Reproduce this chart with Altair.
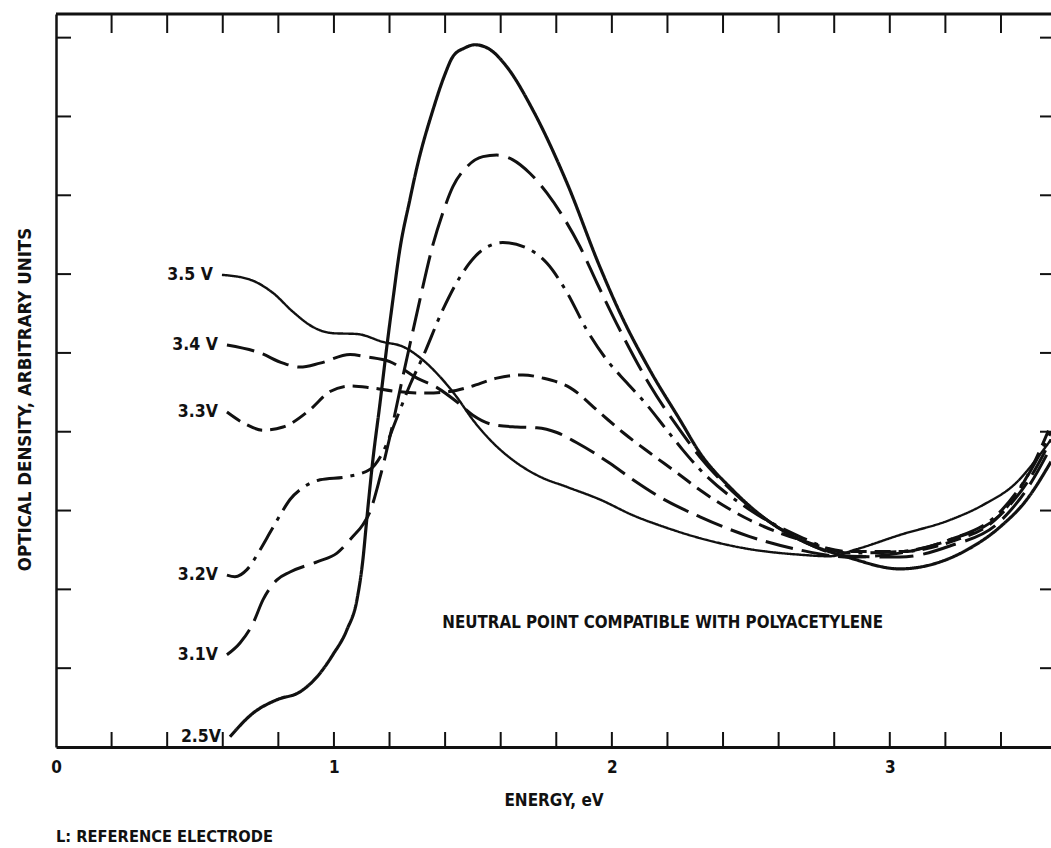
import altair as alt
import pandas as pd

FONT = "DejaVu Sans Condensed, Liberation Sans Narrow, sans-serif"
INK = "#111111"

# plot area in pixels
W, H = 995, 733

# ---- spectra (energy in eV, optical density in arbitrary units) ----
series_names = ["3.5 V", "3.4 V", "3.3V", "3.2V", "3.1V", "2.5V"]

energy_35 = [0.597, 0.698, 0.781, 0.853, 0.924, 0.996, 1.083, 1.176, 1.248, 1.320, 1.381,
             1.442, 1.500, 1.572, 1.644, 1.741, 1.838, 1.957, 2.076, 2.198, 2.317, 2.496,
             2.676, 2.784, 2.881, 3.036, 3.216, 3.335, 3.457, 3.540, 3.58]
od_35 = [5.99, 5.93, 5.76, 5.52, 5.33, 5.25, 5.24, 5.14, 5.08, 4.91, 4.70,
         4.44, 4.15, 3.86, 3.64, 3.43, 3.30, 3.14, 2.94, 2.78, 2.65, 2.51,
         2.44, 2.42, 2.51, 2.69, 2.88, 3.07, 3.36, 3.71, 3.90]

energy_34 = [0.615, 0.734, 0.817, 0.878, 0.950, 1.058, 1.119, 1.201, 1.299, 1.371, 1.442,
             1.500, 1.572, 1.658, 1.730, 1.802, 1.874, 1.993, 2.076, 2.173, 2.317, 2.496,
             2.676, 2.856, 3.036, 3.216, 3.396, 3.504, 3.58]
od_34 = [5.10, 5.00, 4.87, 4.82, 4.87, 4.98, 4.95, 4.89, 4.68, 4.56, 4.38,
         4.21, 4.09, 4.06, 4.05, 3.99, 3.86, 3.60, 3.39, 3.17, 2.92, 2.67,
         2.50, 2.41, 2.46, 2.63, 2.94, 3.41, 3.90]

energy_33 = [0.615, 0.680, 0.745, 0.817, 0.914, 0.986, 1.058, 1.129, 1.227, 1.335, 1.417,
             1.489, 1.586, 1.680, 1.752, 1.849, 1.957, 2.040, 2.137, 2.234, 2.317, 2.496,
             2.676, 2.856, 3.036, 3.216, 3.396, 3.504, 3.58]
od_33 = [4.25, 4.10, 4.02, 4.06, 4.28, 4.51, 4.58, 4.56, 4.51, 4.49, 4.51,
         4.57, 4.68, 4.72, 4.68, 4.56, 4.24, 3.99, 3.73, 3.48, 3.26, 2.88,
         2.63, 2.48, 2.48, 2.60, 2.94, 3.50, 4.09]

energy_32 = [0.615, 0.644, 0.687, 0.734, 0.770, 0.806, 0.842, 0.888, 0.950, 1.047, 1.129,
             1.176, 1.227, 1.273, 1.320, 1.392, 1.453, 1.525, 1.608, 1.694, 1.766, 1.838,
             1.910, 1.982, 2.054, 2.126, 2.198, 2.255, 2.317, 2.496, 2.676, 2.856, 3.036,
             3.216, 3.396, 3.504, 3.58]
od_32 = [2.18, 2.16, 2.25, 2.50, 2.72, 2.94, 3.14, 3.29, 3.39, 3.43, 3.52,
         3.74, 4.18, 4.59, 4.95, 5.55, 5.96, 6.28, 6.40, 6.33, 6.14, 5.77,
         5.29, 4.91, 4.62, 4.34, 4.02, 3.77, 3.52, 3.01, 2.67, 2.46, 2.48,
         2.63, 2.98, 3.49, 4.00]

energy_31 = [0.615, 0.662, 0.709, 0.745, 0.795, 0.842, 0.939, 1.011, 1.068, 1.104, 1.129,
             1.165, 1.201, 1.248, 1.273, 1.309, 1.356, 1.392, 1.428, 1.478, 1.536, 1.586,
             1.644, 1.705, 1.766, 1.824, 1.885, 1.946, 2.029, 2.137, 2.245, 2.317, 2.435,
             2.558, 2.676, 2.856, 3.036, 3.216, 3.396, 3.504, 3.58]
od_31 = [1.17, 1.32, 1.57, 1.87, 2.12, 2.22, 2.35, 2.46, 2.67, 2.82, 2.98,
         3.41, 3.93, 4.70, 5.10, 5.67, 6.37, 6.78, 7.11, 7.36, 7.49, 7.51,
         7.45, 7.28, 7.03, 6.73, 6.35, 5.89, 5.29, 4.59, 4.02, 3.68, 3.24,
         2.88, 2.63, 2.42, 2.41, 2.55, 2.86, 3.33, 3.81]

energy_25 = [0.626, 0.709, 0.795, 0.878, 0.939, 0.996, 1.047, 1.083, 1.104, 1.119, 1.140,
             1.165, 1.191, 1.212, 1.237, 1.273, 1.299, 1.356, 1.399, 1.428, 1.471, 1.507,
             1.561, 1.622, 1.716, 1.838, 1.957, 2.029, 2.137, 2.245, 2.317, 2.435, 2.558,
             2.676, 2.856, 3.036, 3.155, 3.277, 3.396, 3.493, 3.58]
od_25 = [0.13, 0.43, 0.60, 0.70, 0.89, 1.17, 1.49, 1.87, 2.37, 2.92, 3.64,
         4.34, 5.10, 5.67, 6.31, 6.94, 7.36, 8.08, 8.53, 8.76, 8.87, 8.91,
         8.85, 8.63, 8.08, 7.16, 6.09, 5.51, 4.78, 4.15, 3.73, 3.26, 2.88,
         2.63, 2.40, 2.26, 2.32, 2.50, 2.79, 3.14, 3.62]

# tick positions
x_minor = [0.2, 0.4, 0.6, 0.8, 1.0, 1.2, 1.4, 1.6, 1.8, 2.0, 2.2, 2.4, 2.6, 2.8, 3.0, 3.2, 3.4]
x_labels = [0, 1, 2, 3]
y_ticks = [1, 2, 3, 4, 5, 6, 7, 8, 9]

note_text = ["NEUTRAL POINT COMPATIBLE WITH POLYACETYLENE"]
note_x = [1.39]
note_y = [1.51]
footnote = ["L: REFERENCE ELECTRODE"]

# line style per potential
dashes = [[1, 0], [28, 9], [16, 8], [26, 8, 4, 8], [34, 10], [1, 0]]
widths = [2.4, 3.0, 3.0, 3.0, 3.0, 3.2]

curves = [
    ("3.5 V", energy_35, od_35),
    ("3.4 V", energy_34, od_34),
    ("3.3V", energy_33, od_33),
    ("3.2V", energy_32, od_32),
    ("3.1V", energy_31, od_31),
    ("2.5V", energy_25, od_25),
]
frames = []
for name, xs, ys in curves:
    f = pd.DataFrame({"energy": xs, "od": ys})
    f["series"] = name
    frames.append(f)
spectra = pd.concat(frames, ignore_index=True)
starts = spectra.groupby("series", sort=False).head(1)

x_scale = alt.Scale(domain=[0, 3.58], nice=False, zero=False)
y_scale = alt.Scale(domain=[0, 9.3], nice=False, zero=False)

# shared axis definitions, repeated identically on every layer
x_axis = alt.Axis(
    values=x_labels, format="d", ticks=False, tickSize=0, grid=False,
    domainColor=INK, domainWidth=3, labelFlush=False,
    labelFont=FONT, labelFontSize=17, labelFontWeight="bold", labelColor=INK,
    labelBaseline="alphabetic", labelPadding=25,
    title="ENERGY, eV", titleFont=FONT, titleFontSize=17, titleFontWeight="bold",
    titleColor=INK, titleBaseline="alphabetic", titleY=58,
)
y_axis = alt.Axis(
    labels=False, ticks=False, tickSize=0, grid=False,
    domainColor=INK, domainWidth=2.5,
    title="OPTICAL DENSITY, ARBITRARY UNITS", titleFont=FONT, titleFontSize=18.5,
    titleFontWeight="bold", titleColor=INK, titleAngle=270,
    titleAlign="center", titleBaseline="alphabetic", titleX=-26, titleY=385,
)


def xenc():
    return alt.X("energy:Q", scale=x_scale, axis=x_axis)


def yenc():
    return alt.Y("od:Q", scale=y_scale, axis=y_axis)


lines = alt.Chart(spectra).mark_line(
    interpolate="monotone", clip=True, color=INK, strokeCap="butt", strokeJoin="round"
).encode(
    x=xenc(),
    y=yenc(),
    detail="series:N",
    strokeDash=alt.StrokeDash(
        "series:N", scale=alt.Scale(type="ordinal", domain=series_names, range=dashes), legend=None
    ),
    strokeWidth=alt.StrokeWidth(
        "series:N", scale=alt.Scale(type="ordinal", domain=series_names, range=widths), legend=None
    ),
)

xt = alt.Chart(pd.DataFrame({"energy": x_minor}))
bottom_ticks = xt.mark_rule(color=INK, strokeWidth=2).encode(
    x=xenc(), y=alt.value(H), y2=alt.value(H - 15)
)
top_ticks = xt.mark_rule(color=INK, strokeWidth=2).encode(
    x=xenc(), y=alt.value(0), y2=alt.value(19)
)

yt = alt.Chart(pd.DataFrame({"od": y_ticks}))
left_ticks = yt.mark_rule(color=INK, strokeWidth=2).encode(
    y=yenc(), x=alt.value(0), x2=alt.value(15)
)
right_ticks = yt.mark_rule(color=INK, strokeWidth=2).encode(
    y=yenc(), x=alt.value(W - 11), x2=alt.value(W)
)

top_frame = alt.Chart(pd.DataFrame({"edge": ["top"]})).mark_rule(color=INK, strokeWidth=3).encode(
    x=alt.value(0), x2=alt.value(W), y=alt.value(0)
)

labels = alt.Chart(starts).mark_text(
    align="right", baseline="middle", dx=-9, font=FONT, fontSize=17.5, fontWeight="bold", color=INK
).encode(
    x=xenc(),
    y=yenc(),
    text="series:N",
)

note = alt.Chart(pd.DataFrame({"energy": note_x, "od": note_y, "text": note_text})).mark_text(
    align="left", baseline="alphabetic", font=FONT, fontSize=16.8, fontWeight="bold", color=INK
).encode(
    x=xenc(),
    y=yenc(),
    text="text:N",
)

foot = alt.Chart(pd.DataFrame({"text": footnote})).mark_text(
    align="left", baseline="alphabetic", font=FONT, fontSize=16.3, fontWeight="bold", color=INK
).encode(x=alt.value(0), y=alt.value(828), text="text:N")

chart = alt.layer(
    lines, bottom_ticks, top_ticks, left_ticks, right_ticks, top_frame, labels, note, foot
).properties(
    width=W, height=H,
    autosize=alt.AutoSizeParams(type="none"),
    padding={"left": 56, "top": 14, "right": 0, "bottom": 101},
    background="white",
).configure_view(stroke=None)

chart.save("out.html", embed_options={"renderer": "svg", "actions": False})
